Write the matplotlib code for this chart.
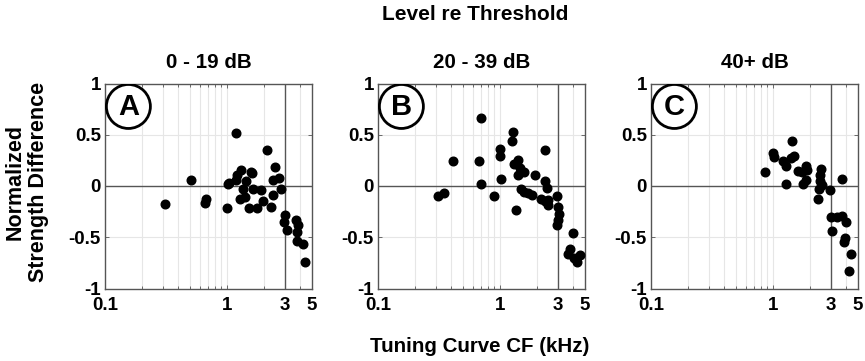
import numpy as np
import matplotlib
matplotlib.use("Agg")
import matplotlib.pyplot as plt
from matplotlib.patches import Ellipse
from matplotlib.ticker import FixedLocator, NullFormatter

plt.rcParams['font.family'] = ['Liberation Sans', 'DejaVu Sans']
plt.rcParams['font.weight'] = 'bold'

panel_titles = ["0 - 19 dB", "20 - 39 dB", "40+ dB"]
panel_letters = ["A", "B", "C"]

# Panel A (0-19 dB)
cf_a = [0.31, 0.51, 0.66, 0.68, 1.00, 1.03, 1.05, 1.19, 1.21, 1.30, 1.19, 1.44, 1.37, 1.57,
        1.65, 1.90, 2.13, 2.47, 2.38, 2.67, 2.80, 2.38, 1.29, 1.40, 1.51, 1.78, 1.97, 2.30,
        1.60, 3.00, 2.95, 3.14, 3.70, 3.84, 3.75, 3.80, 4.25, 4.41]
sd_a = [-0.18, 0.06, -0.17, -0.13, -0.21, 0.02, 0.03, 0.52, 0.11, 0.16, 0.06, 0.05, -0.03, 0.14,
        -0.03, -0.04, 0.35, 0.19, 0.06, 0.08, -0.03, -0.09, -0.13, -0.11, -0.21, -0.21, -0.15, -0.20,
        0.13, -0.28, -0.35, -0.43, -0.33, -0.38, -0.45, -0.54, -0.57, -0.74]

# Panel B (20-39 dB)
cf_b = [0.31, 0.35, 0.41, 0.67, 0.70, 0.70, 0.89, 1.01, 1.01, 1.03, 1.26, 1.29, 1.30, 1.41,
        1.46, 1.57, 1.41, 1.95, 2.33, 2.36, 2.42, 1.48, 1.57, 1.70, 1.84, 1.35, 2.19, 2.33,
        2.48, 2.48, 2.92, 3.03, 3.07, 2.99, 2.92, 3.96, 3.76, 3.62, 4.06, 4.55, 4.27]
sd_b = [-0.10, -0.065, 0.24, 0.24, 0.66, 0.02, -0.10, 0.36, 0.29, 0.07, 0.44, 0.53, 0.21, 0.25,
        0.18, 0.135, 0.11, 0.11, 0.35, 0.045, -0.015, -0.03, -0.06, -0.07, -0.09, -0.23, -0.13, -0.15,
        -0.14, -0.19, -0.10, -0.20, -0.27, -0.33, -0.38, -0.46, -0.61, -0.66, -0.70, -0.67, -0.74]

# Panel C (40+ dB)
cf_c = [0.865, 1.00, 1.02, 1.21, 1.28, 1.29, 1.41, 1.45, 1.50, 1.60, 1.75, 1.86, 1.91, 1.86,
        1.77, 2.48, 2.42, 2.45, 2.55, 2.39, 2.33, 2.96, 3.71, 2.99, 3.36, 3.71, 3.95, 3.04,
        3.90, 3.85, 4.42, 4.21]
sd_c = [0.14, 0.32, 0.28, 0.24, 0.20, 0.02, 0.27, 0.44, 0.295, 0.145, 0.135, 0.20, 0.16, 0.06,
        0.02, 0.17, 0.11, 0.05, 0.013, -0.03, -0.13, -0.04, 0.064, -0.30, -0.30, -0.295, -0.35, -0.44,
        -0.51, -0.55, -0.66, -0.83]

cfs = [cf_a, cf_b, cf_c]
sds = [sd_a, sd_b, sd_c]

xticks = [0.1, 1, 3, 5]
xtick_labels = ["0.1", "1", "3", "5"]
yticks = [-1, -0.5, 0, 0.5, 1]
ytick_labels = ["-1", "-0.5", "0", "0.5", "1"]
minor_x = [0.2, 0.3, 0.4, 0.5, 0.6, 0.7, 0.8, 0.9, 2, 4]

W, H = 865, 361
fig = plt.figure(figsize=(W / 100, H / 100), dpi=100)
lefts = [105, 378, 651]
axw, axh = 207, 205
bottom = 361 - 288.5

for i in range(3):
    ax = fig.add_axes([lefts[i] / W, bottom / H, axw / W, axh / H])
    ax.set_xscale('log')
    ax.set_xlim(0.1, 5)
    ax.set_ylim(-1, 1)
    # grid
    for gx in minor_x + [1]:
        ax.axvline(gx, color='#e6e6e6', lw=0.8, zorder=0)
    for gy in [-0.5, 0.5]:
        ax.axhline(gy, color='#e6e6e6', lw=0.8, zorder=0)
    ax.axhline(0, color='#555555', lw=1.0, zorder=1)
    ax.axvline(3, color='#555555', lw=1.0, zorder=1)
    ax.plot(cfs[i], sds[i], 'o', color='black', ms=6.2, zorder=3)
    ax.xaxis.set_major_locator(FixedLocator(xticks))
    ax.set_xticklabels(xtick_labels)
    ax.xaxis.set_minor_locator(FixedLocator(minor_x))
    ax.xaxis.set_minor_formatter(NullFormatter())
    ax.set_yticks(yticks)
    ax.set_yticklabels(ytick_labels)
    ax.tick_params(which='both', direction='in', top=True, right=True,
                   length=3, width=0.6, labelsize=13.5, color='#555555')
    ax.tick_params(axis='x', which='major', pad=6)
    ax.tick_params(axis='y', which='major', pad=3)
    ax.tick_params(which='minor', length=2)
    for lab in ax.get_xticklabels() + ax.get_yticklabels():
        lab.set_fontweight('bold')
    for sp in ax.spines.values():
        sp.set_color('#555555')
        sp.set_linewidth(1.0)
    ax.set_title(panel_titles[i], fontsize=14.8, fontweight='bold', pad=11)
    ell = Ellipse((0.113, 0.888), 44 / axw, 44 / axh, transform=ax.transAxes,
                  facecolor='white', edgecolor='black', lw=2, zorder=5)
    ax.add_patch(ell)
    ax.text(0.113, 0.885, panel_letters[i], transform=ax.transAxes, ha='center', va='center',
            fontsize=21, fontweight='bold', zorder=6)

fig.text(475 / W, 1 - 15 / H, "Level re Threshold", ha='center', va='center',
         fontsize=15, fontweight='bold')
fig.text(480 / W, 1 - 347 / H, "Tuning Curve CF (kHz)", ha='center', va='center',
         fontsize=14.8, fontweight='bold')
fig.text(27 / W, 1 - 182 / H, "Normalized\nStrength Difference", ha='center', va='center',
         rotation=90, fontsize=15.5, fontweight='bold', linespacing=1.15)

fig.savefig("out.png", dpi=100)
